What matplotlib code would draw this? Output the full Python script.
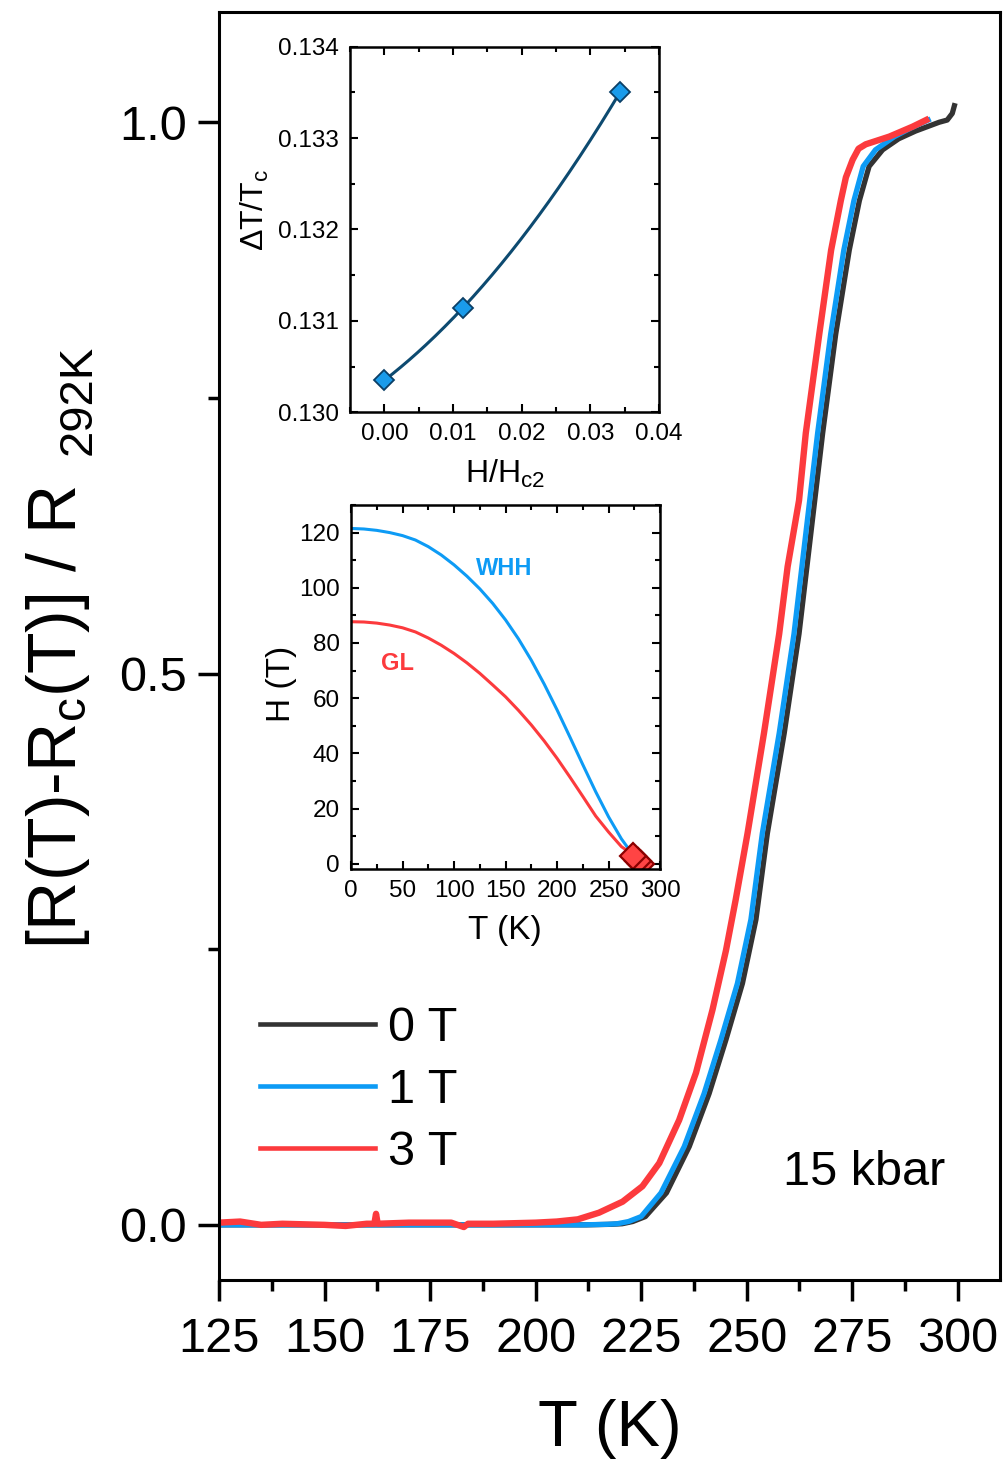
import numpy as np
import matplotlib
matplotlib.use('Agg')
import matplotlib.pyplot as plt
from matplotlib.ticker import MultipleLocator

plt.rcParams['font.family'] = ['Liberation Sans', 'DejaVu Sans']
plt.rcParams['mathtext.fontset'] = 'custom'
plt.rcParams['mathtext.rm'] = 'Liberation Sans'
plt.rcParams['mathtext.it'] = 'Liberation Sans:italic'
plt.rcParams['mathtext.bf'] = 'Liberation Sans:bold'

# main panel: normalised resistance vs T at 15 kbar
t_0T = [125, 150, 175, 200, 212, 218, 220.5, 223, 226, 231, 236.4, 241.1, 245.1, 249, 252.2,
        254.9, 258.9, 262.4, 265.2, 268, 271.1, 274.3, 276.7, 279, 282.2, 286, 290, 295.6,
        297.5, 298.7, 299.2]
r_0T = [0, 0, 0, 0, 0, 0.0005, 0.001, 0.003, 0.0075, 0.029, 0.071, 0.119, 0.168, 0.219, 0.277,
        0.355, 0.446, 0.536, 0.627, 0.718, 0.808, 0.884, 0.929, 0.960, 0.975, 0.985, 0.992, 1.0,
        1.002, 1.008, 1.015]

t_1T = [125, 150, 175, 200, 211, 217, 219.3, 222, 225, 229.7, 235.2, 239.9, 243.9, 247.8, 251.0,
        253.7, 257.7, 261.2, 264.0, 266.8, 269.9, 273.0, 275.4, 277.6, 280.5, 285, 289, 293]
r_1T = [0, 0, 0, 0, 0, 0.0005, 0.001, 0.003, 0.0075, 0.029, 0.071, 0.119, 0.168, 0.219, 0.277,
        0.355, 0.446, 0.536, 0.627, 0.718, 0.808, 0.884, 0.929, 0.960, 0.975, 0.987, 0.995, 1.002]

t_3T = [125, 130, 135, 140, 150, 155, 160, 161.8, 162.2, 162.6, 170, 180, 183, 184, 190, 200,
        205, 210, 215, 220.6, 225.3, 229.3, 234, 238, 241.9, 245.1, 247.4, 250.2, 254.1, 257.7,
        259.7, 262.4, 264, 267.2, 270, 272.3, 273.5, 275.1, 276.5, 278.2, 283.8, 289.3, 292.5]
r_3T = [0.002, 0.003, 0.0, 0.001, 0.0, -0.001, 0.001, 0.001, 0.010, 0.001, 0.002, 0.002, -0.002,
        0.001, 0.001, 0.002, 0.003, 0.005, 0.011, 0.021, 0.035, 0.056, 0.095, 0.138, 0.195, 0.249,
        0.295, 0.355, 0.446, 0.536, 0.597, 0.657, 0.718, 0.808, 0.884, 0.929, 0.950, 0.966, 0.976,
        0.980, 0.987, 0.996, 1.002]

# inset 1: transition width vs reduced field
h_red = [0.0, 0.0114, 0.0343]
dt_tc = [0.13035, 0.13114, 0.13350]

# inset 2: upper critical field
whh_T = [0, 12.5, 25, 37.5, 50, 62.5, 75, 87.5, 100, 112.5, 125, 137.5, 150, 162.5, 175,
         187.5, 200, 212.5, 225, 237.5, 250, 262.5, 272]
whh_H = [121.5, 121.3, 120.8, 120.0, 118.9, 117.3, 114.9, 111.9, 108.3, 104.2, 99.6, 94.35,
         88.35, 81.5, 73.75, 65.1, 55.75, 45.9, 35.9, 26.1, 17.0, 9.0, 4.1]
gl_T = [0, 12.5, 25, 37.5, 50, 62.5, 75, 87.5, 100, 112.5, 125, 137.5, 150, 162.5, 175,
        187.5, 200, 212.5, 225, 237.5, 250, 262.5, 271]
gl_H = [87.7, 87.6, 87.2, 86.5, 85.5, 84.0, 81.8, 79.2, 76.2, 72.8, 69.0, 64.8, 60.5, 55.6,
        50.3, 44.5, 38.2, 31.4, 24.4, 17.3, 11.5, 6.2, 4.0]
hc2_T = [281.5, 279.0, 273.5]
hc2_H = [0, 1, 3]

fig = plt.figure(figsize=(10.05, 14.62), dpi=100)

ax = fig.add_axes([0.2179, 0.1245, 0.7771, 0.8673])
ax.plot(t_0T, r_0T, color='#333333', lw=3.8, label='0 T', solid_joinstyle='round')
ax.plot(t_1T, r_1T, color='#0d9bf5', lw=3.8, label='1 T', solid_joinstyle='round')
ax.plot(t_3T, r_3T, color='#fc3a3d', lw=4.6, label='3 T', solid_joinstyle='round')
ax.set_xlim(125, 310)
ax.set_ylim(-0.05, 1.10)
ax.xaxis.set_major_locator(MultipleLocator(25))
ax.xaxis.set_minor_locator(MultipleLocator(12.5))
ax.yaxis.set_major_locator(MultipleLocator(0.5))
ax.yaxis.set_minor_locator(MultipleLocator(0.25))
ax.tick_params(which='both', direction='out', top=False, right=False, width=2.5)
ax.tick_params(which='major', length=15, labelsize=35, pad=8)
ax.tick_params(axis='x', which='major', pad=12)
ax.tick_params(which='minor', length=8)
for s in ax.spines.values():
    s.set_linewidth(2.2)
ax.set_xlabel('T (K)', fontsize=47, labelpad=26)
# y label drawn as two pieces so the 292K subscript can be sized like the original
fig.text(58 / 1005, 1 - 717 / 1462, r'[R(T)-R$_\mathrm{c}$(T)] / R', rotation=90,
         fontsize=49, ha='center', va='center')
fig.text(79 / 1005, 1 - 400 / 1462, '292K', rotation=90, fontsize=34, ha='center', va='center')
ax.text(0.93, 0.085, '15 kbar', transform=ax.transAxes, fontsize=35, ha='right', va='center')

leg = ax.legend(loc='upper left', bbox_to_anchor=(260 / 1005, 1 - 1006 / 1462),
                bbox_transform=fig.transFigure, frameon=False, fontsize=35,
                handlelength=2.37, handletextpad=0.27, labelspacing=0.35,
                borderpad=0, borderaxespad=0)
for ln in leg.get_lines():
    ln.set_linewidth(3.3)

# inset 1
ax1 = fig.add_axes([0.3483, 0.718, 0.3075, 0.2501])
coef = np.polyfit(h_red, dt_tc, 2)
xf = np.linspace(h_red[0], h_red[-1], 200)
ax1.plot(xf, np.polyval(coef, xf), color='#0d4a70', lw=2.2)
ax1.plot(h_red, dt_tc, 'D', ms=10, mfc='#1a9bea', mec='#0b3f66', mew=1.3)
ax1.set_xlim(-0.005, 0.04)
ax1.set_ylim(0.130, 0.134)
ax1.xaxis.set_major_locator(MultipleLocator(0.01))
ax1.xaxis.set_minor_locator(MultipleLocator(0.005))
ax1.yaxis.set_major_locator(MultipleLocator(0.001))
ax1.yaxis.set_minor_locator(MultipleLocator(0.0005))
ax1.xaxis.set_major_formatter(plt.FormatStrFormatter('%.2f'))
ax1.yaxis.set_major_formatter(plt.FormatStrFormatter('%.3f'))
ax1.set_xlabel(r'H/H$_\mathrm{c2}$', fontsize=23)
ax1.set_ylabel(r'$\Delta$T/T$_\mathrm{c}$', fontsize=23)
ax1.xaxis.set_label_coords(0.50, -0.125)
ax1.yaxis.set_label_coords(-0.257, 0.553)

# inset 2
ax2 = fig.add_axes([0.3493, 0.4054, 0.3075, 0.2492])
ax2.plot(whh_T, whh_H, color='#0d9bf5', lw=2.2)
ax2.plot(gl_T, gl_H, color='#fc3a3d', lw=2.2)
for tt, hh in zip(hc2_T, hc2_H):
    ax2.plot(tt, hh, 'D', ms=13, mfc='#ff4444', mec='#8b0000', mew=1.6)
ax2.set_xlim(0, 300)
ax2.set_ylim(-2, 130)
ax2.xaxis.set_major_locator(MultipleLocator(50))
ax2.xaxis.set_minor_locator(MultipleLocator(25))
ax2.yaxis.set_major_locator(MultipleLocator(20))
ax2.yaxis.set_minor_locator(MultipleLocator(10))
ax2.text(148.5, 107, 'WHH', color='#0d9bf5', fontsize=17, fontweight='bold', ha='center', va='center')
ax2.text(44.7, 72.6, 'GL', color='#fc3a3d', fontsize=17, fontweight='bold', ha='center', va='center')
ax2.set_xlabel('T (K)', fontsize=24)
ax2.set_ylabel('H (T)', fontsize=24)
ax2.xaxis.set_label_coords(0.498, -0.125)
ax2.yaxis.set_label_coords(-0.175, 0.508)

for a in (ax1, ax2):
    a.tick_params(which='both', direction='in', top=True, right=True, width=1.5)
    a.tick_params(which='major', length=6, labelsize=17.5, pad=8)
    a.tick_params(which='minor', length=3.5)
    for s in a.spines.values():
        s.set_linewidth(1.8)

fig.savefig('out.png', dpi=100)
